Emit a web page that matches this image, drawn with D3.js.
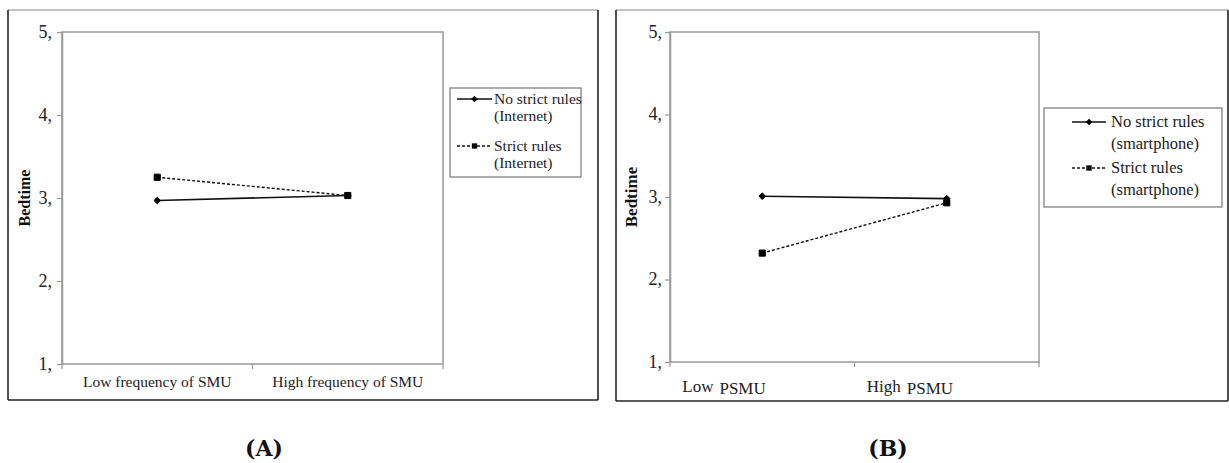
<!DOCTYPE html>
<html>
<head>
<meta charset="utf-8">
<script src="https://cdn.jsdelivr.net/npm/d3@7"></script>
<style>
  body { margin: 0; background: #fff; }
  svg { display: block; }
</style>
</head>
<body>
<div id="chart"></div>
<script>
// data
const yTicks = [1, 2, 3, 4, 5];
const yTickLabels = ["1,", "2,", "3,", "4,", "5,"];

const catsA = ["Low frequency of SMU", "High frequency of SMU"];
const noStrictA = [2.97, 3.03];
const strictA = [3.25, 3.03];
const legendA = [["No strict rules", "(Internet)"], ["Strict rules", "(Internet)"]];

const catsB = ["Low", "High"];
const catsBSub = ["PSMU", "PSMU"];
const noStrictB = [3.01, 2.98];
const strictB = [2.32, 2.93];
const legendB = [["No strict rules", "(smartphone)"], ["Strict rules", "(smartphone)"]];

const captions = ["(A)", "(B)"];

const serif = "'Liberation Serif', 'Times New Roman', serif";

const svg = d3.select("#chart").append("svg")
  .attr("width", 1229)
  .attr("height", 463);

function drawPanel(p) {
  const g = svg.append("g");

  // outer frame
  g.append("line").attr("x1", p.frame[0]).attr("x2", p.frame[2])
    .attr("y1", p.frame[1]).attr("y2", p.frame[1])
    .attr("stroke", "#888").attr("stroke-width", 1.2);
  [[0, 1, 0, 3], [2, 1, 2, 3], [0, 3, 2, 3]].forEach(s => {
    g.append("line")
      .attr("x1", p.frame[s[0]]).attr("y1", p.frame[s[1]])
      .attr("x2", p.frame[s[2]]).attr("y2", p.frame[s[3]])
      .attr("stroke", "#222").attr("stroke-width", 1.6);
  });

  const x = d3.scaleBand().domain(p.cats).range([p.left, p.right]).padding(0);
  const y = d3.scaleLinear().domain([1, 5]).range([p.bottom, p.top]);

  // plot area border
  g.append("rect")
    .attr("x", p.left).attr("y", p.top)
    .attr("width", p.right - p.left).attr("height", p.bottom - p.top)
    .attr("fill", "none").attr("stroke", "#999").attr("stroke-width", 1.5);

  // y axis
  const yAxis = g.append("g")
    .attr("transform", "translate(" + p.left + ",0)")
    .call(d3.axisLeft(y).tickValues(yTicks)
      .tickFormat((d, i) => yTickLabels[i]).tickSize(5).tickSizeOuter(0));
  yAxis.select(".domain").attr("stroke", "#999").attr("stroke-width", 1.5);
  yAxis.selectAll(".tick line").attr("stroke", "#999").attr("stroke-width", 1.2);
  yAxis.selectAll(".tick text")
    .attr("x", -p.yLabelGap)
    .attr("dy", "0.3em")
    .style("font-family", serif).style("font-size", p.yfs + "px").attr("fill", "#222");

  // x ticks at band edges
  const edges = p.cats.map(c => x(c)).concat([p.right]);
  g.selectAll(".xt").data(edges).join("line")
    .attr("x1", d => d).attr("x2", d => d)
    .attr("y1", p.bottom).attr("y2", p.bottom + 5)
    .attr("stroke", "#999").attr("stroke-width", 1.2);

  // x labels
  if (p.sub) {
    const t = g.selectAll(".xl").data(p.cats).join("text")
      .attr("x", d => x(d) + x.bandwidth() / 2 + p.subOffset)
      .attr("y", p.bottom + p.xLabelDy)
      .style("font-family", serif).style("font-size", p.fs + "px").attr("fill", "#222");
    t.append("tspan").text(d => d);
    t.append("tspan").attr("dx", 6).attr("dy", 2).text((d, i) => p.sub[i]);
  } else {
    g.selectAll(".xl").data(p.cats).join("text")
      .attr("x", d => x(d) + x.bandwidth() / 2)
      .attr("y", p.bottom + p.xLabelDy)
      .attr("text-anchor", "middle")
      .style("font-family", serif).style("font-size", p.fs + "px").attr("fill", "#222")
      .text(d => d);
  }

  // y title
  g.append("text")
    .attr("transform", "translate(" + p.titleX + "," + ((p.top + p.bottom) / 2) + ") rotate(-90)")
    .attr("text-anchor", "middle")
    .style("font-family", serif).style("font-size", p.titleFs + "px").style("font-weight", "bold")
    .attr("fill", "#111")
    .text("Bedtime");

  const line = d3.line().x((d, i) => x(p.cats[i]) + x.bandwidth() / 2).y(d => y(d));

  // series lines
  g.append("path").datum(p.noStrict).attr("d", line)
    .attr("fill", "none").attr("stroke", "#111").attr("stroke-width", 1.6);
  g.append("path").datum(p.strict).attr("d", line)
    .attr("fill", "none").attr("stroke", "#111").attr("stroke-width", 1.4)
    .attr("stroke-dasharray", "3,2");

  const diamond = d3.symbol().type(d3.symbolDiamond2).size(28);
  const square = d3.symbol().type(d3.symbolSquare2).size(48);

  g.selectAll(".dm").data(p.noStrict).join("path")
    .attr("d", diamond)
    .attr("transform", (d, i) => "translate(" + (x(p.cats[i]) + x.bandwidth() / 2) + "," + y(d) + ")")
    .attr("fill", "#000").attr("stroke", "#000").attr("stroke-width", 1);
  g.selectAll(".sq").data(p.strict).join("path")
    .attr("d", square)
    .attr("transform", (d, i) => "translate(" + (x(p.cats[i]) + x.bandwidth() / 2) + "," + y(d) + ")")
    .attr("fill", "#000").attr("stroke", "#000").attr("stroke-width", 1);

  // legend
  const L = p.legend;
  g.append("rect")
    .attr("x", L.x).attr("y", L.y).attr("width", L.w).attr("height", L.h)
    .attr("fill", "#fff").attr("stroke", "#777").attr("stroke-width", 1.2);
  p.legendLabels.forEach((lab, i) => {
    const cy = L.y + L.row0 + i * L.rowGap;
    g.append("line")
      .attr("x1", L.x + L.lineX0).attr("x2", L.x + L.lineX1)
      .attr("y1", cy).attr("y2", cy)
      .attr("stroke", "#111").attr("stroke-width", i === 0 ? 1.6 : 1.3)
      .attr("stroke-dasharray", i === 0 ? null : "3,2");
    g.append("path")
      .attr("d", i === 0 ? diamond : d3.symbol().type(d3.symbolSquare2).size(36))
      .attr("transform", "translate(" + (L.x + (L.lineX0 + L.lineX1) / 2) + "," + cy + ")")
      .attr("fill", "#000");
    const t = g.append("text")
      .attr("x", L.x + L.textX).attr("y", cy + 5)
      .style("font-family", serif).style("font-size", L.fs + "px").attr("fill", "#222");
    t.append("tspan").text(lab[0]);
    t.append("tspan").attr("x", L.x + L.textX).attr("dy", L.lineH).text(lab[1]);
  });

  // caption
  g.append("text")
    .attr("x", p.capX).attr("y", 456)
    .attr("text-anchor", "middle")
    .style("font-family", "'DejaVu Serif', serif").style("font-size", "22px").style("font-weight", "bold")
    .attr("fill", "#111")
    .text(p.caption);
}

drawPanel({
  frame: [8, 10, 598, 400],
  left: 62, right: 443, top: 32, bottom: 364,
  cats: catsA, noStrict: noStrictA, strict: strictA,
  fs: 15.5, yfs: 18, yLabelGap: 10, xLabelDy: 23, titleX: 30, titleFs: 16,
  legendLabels: legendA,
  legend: { x: 450, y: 88, w: 131, h: 89, row0: 11, rowGap: 47, lineX0: 7, lineX1: 42, textX: 44, fs: 15.5, lineH: 17 },
  capX: 264, caption: captions[0]
});

drawPanel({
  frame: [616, 10, 1228, 401],
  left: 670, right: 1039, top: 32, bottom: 362,
  cats: catsB, sub: catsBSub, subOffset: -80, noStrict: noStrictB, strict: strictB,
  fs: 17, yfs: 18, yLabelGap: 8, xLabelDy: 30, titleX: 637, titleFs: 17,
  legendLabels: legendB,
  legend: { x: 1044, y: 108, w: 178, h: 99, row0: 14, rowGap: 46, lineX0: 28, lineX1: 62, textX: 67, fs: 16.5, lineH: 22 },
  capX: 888, caption: captions[1]
});
</script>
</body>
</html>
